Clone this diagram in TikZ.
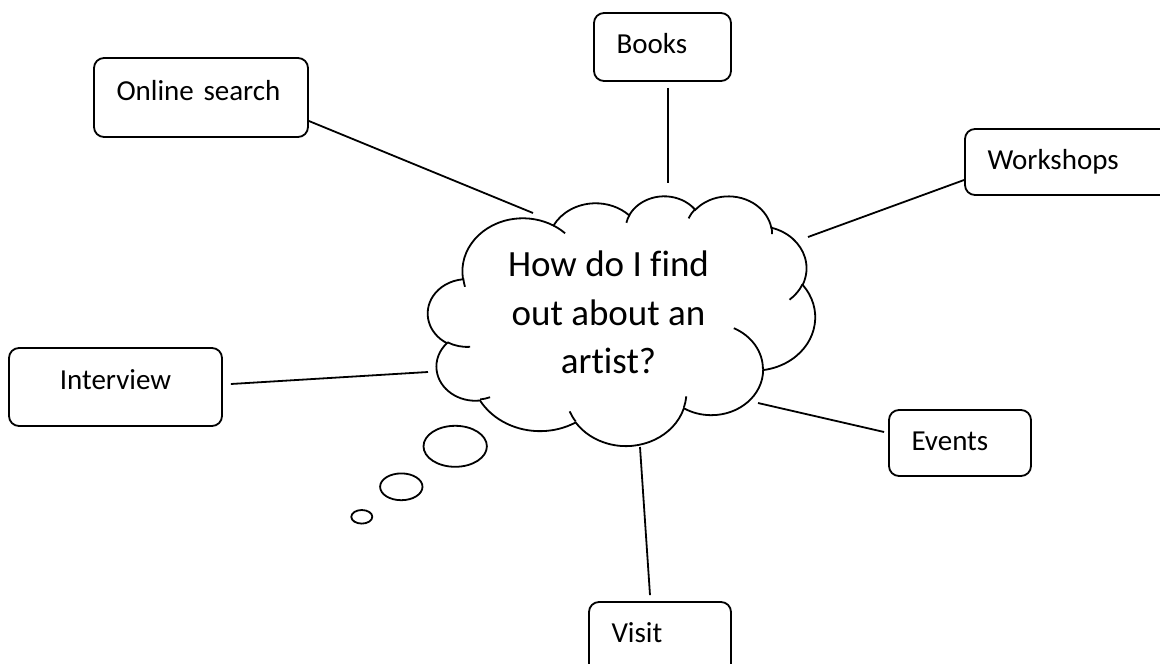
\documentclass[tikz,border=0pt]{standalone}
\usepackage{fontspec}
\setmainfont{Carlito}[Ligatures=CommonOff]
\pgfmathdeclarefunction{pang}{3}{%
  \begingroup
    \pgfmathparse{atan2(sin(#1)*#2, cos(#1)*#3) - (#1)}%
    \pgfmathparse{(#1) + \pgfmathresult - 360*round(\pgfmathresult/360)}%
    \pgfmathsmuggle\pgfmathresult
  \endgroup}
\tikzset{
  box/.style={draw, rounded corners=10pt, inner xsep=22.5pt, inner ysep=0pt,
    font=\fontsize{29}{34}\selectfont, text height=20pt, align=left},
  link/.style={draw},
  bubble/.style={draw, fill=white},
}
\begin{document}
\begin{tikzpicture}[x=1pt, y=-1pt, line width=1.8pt]
\useasboundingbox (0,0) rectangle (1160,664);
\clip (0,0) rectangle (1160,664);

% cloud outline (Word cloud geometry)
\begin{scope}[shift={(428,195.5)}, x=0.896pt, y=-0.578pt]
\draw[fill=white] (39.00,143.70)
 arc[x radius=67.53, y radius=91.90, start angle={pang(-190.4875,67.53,91.90)}, end angle={pang(-66.7070,67.53,91.90)}]
 arc[x radius=53.33, y radius=72.67, start angle={pang(-144.1024,53.33,72.67)}, end angle={pang(-54.1572,53.33,72.67)}]
 arc[x radius=43.65, y radius=59.45, start angle={pang(-145.8079,43.65,59.45)}, end angle={pang(-46.0849,43.65,59.45)}]
 arc[x radius=48.57, y radius=65.95, start angle={pang(-130.9861,48.57,65.95)}, end angle={pang(-13.7444,48.57,65.95)}]
 arc[x radius=53.33, y radius=72.73, start angle={pang(-78.7089,53.33,72.73)}, end angle={pang(30.3180,53.33,72.73)}]
 arc[x radius=67.75, y radius=92.20, start angle={pang(-46.2673,67.75,92.20)}, end angle={pang(84.0017,67.75,92.20)}]
 arc[x radius=57.85, y radius=78.67, start angle={pang(0.6250,57.85,78.67)}, end angle={pang(114.6583,57.85,78.67)}]
 arc[x radius=67.52, y radius=92.15, start angle={pang(22.4516,67.52,92.15)}, end angle={pang(137.6242,67.52,92.15)}]
 arc[x radius=77.20, y radius=105.43, start angle={pang(66.2426,77.20,105.43)}, end angle={pang(141.9536,77.20,105.43)}]
 arc[x radius=43.60, y radius=59.18, start angle={pang(-274.9421,43.60,59.18)}, end angle={pang(-128.2065,43.60,59.18)}]
 arc[x radius=43.45, y radius=59.45, start angle={pang(-246.8285,43.45,59.45)}, end angle={pang(-94.3096,43.45,59.45)}]
 -- cycle;
\draw
 (46.93,261.77) arc[x radius=43.45, y radius=59.45, start angle={pang(86.7420,43.45,59.45)}, end angle={pang(113.1715,43.45,59.45)}]
 (69.28,348.99) arc[x radius=43.60, y radius=59.18, start angle={pang(73.6105,43.60,59.18)}, end angle={pang(85.0580,43.60,59.18)}]
 (164.78,390.90) arc[x radius=67.52, y radius=92.15, start angle={pang(137.6242,67.52,92.15)}, end angle={pang(151.7053,67.52,92.15)}]
 (288.27,347.51) arc[x radius=67.52, y radius=92.15, start angle={pang(6.4533,67.52,92.15)}, end angle={pang(22.4517,67.52,92.15)}]
 (341.29,229.54) arc[x radius=57.85, y radius=78.67, start angle={pang(-70.2924,57.85,78.67)}, end angle={pang(0.6250,57.85,78.67)}]
 (417.98,153.54) arc[x radius=53.33, y radius=72.73, start angle={pang(30.3180,53.33,72.73)}, end angle={pang(58.0695,53.33,72.73)}]
 (383.24,54.26) arc[x radius=48.57, y radius=65.95, start angle={pang(-13.7443,48.57,65.95)}, end angle={pang(1.1146,48.57,65.95)}]
 (290.78,39.52) arc[x radius=48.57, y radius=65.95, start angle={pang(-149.1815,48.57,65.95)}, end angle={pang(-130.9861,48.57,65.95)}]
 (221.41,47.20) arc[x radius=43.65, y radius=59.45, start angle={pang(-163.4943,43.65,59.45)}, end angle={pang(-145.8079,43.65,59.45)}]
 (140.00,51.92) arc[x radius=67.53, y radius=91.90, start angle={pang(-66.7070,67.53,91.90)}, end angle={pang(-54.3876,67.53,91.90)}]
 (41.27,157.89) arc[x radius=67.53, y radius=91.90, start angle={pang(160.4574,67.53,91.90)}, end angle={pang(172.3212,67.53,91.90)}];
\end{scope}

\node[align=center, font=\fontsize{37}{48.5}\selectfont, inner sep=0pt] (q) at (608.5,312.5)
  {How do I find\\out about an\\artist?};

% thought bubbles
\draw[bubble] (455.2,446.3) ellipse [x radius=31.7, y radius=20.5];
\draw[bubble] (401.3,486.8) ellipse [x radius=21.2, y radius=13.4];
\draw[bubble] (361.8,516.8) ellipse [x radius=10.5, y radius=6.8];

% boxes
\node[box, minimum width=214pt, minimum height=79pt, text width=169pt, text depth=13.6pt] (online) at (201,97.5) {Online search};
\node[box, minimum width=137pt, minimum height=68pt, text width=92pt, text depth=7.4pt] (books) at (662.5,47) {Books};
\node[box, minimum width=214pt, minimum height=66pt, text width=169pt, text depth=6pt] (workshops) at (1072,162) {Workshops};
\node[box, align=center, minimum width=213pt, minimum height=78pt, text width=168pt, text depth=15.4pt] (interview) at (115.5,387) {Interview};
\node[box, minimum width=142pt, minimum height=66pt, text width=97pt, text depth=6pt] (events) at (960,443) {Events};
\node[box, minimum width=142pt, minimum height=79pt, text width=97pt, text depth=18pt] (visit) at (660,641.5) {Visit};

% free ends near the cloud
\coordinate (e1) at (533,213);
\coordinate (e2) at (668,183);
\coordinate (e3) at (808,237);
\coordinate (e4) at (428,372);
\coordinate (e5) at (758,403);
\coordinate (e6) at (640,447);

\draw[link] ([yshift=-23.5pt]online.east) -- (e1);
\draw[link] ([xshift=5.5pt,yshift=-6pt]books.south) -- (e2);
\draw[link] ([yshift=-18pt]workshops.west) -- (e3);
\draw[link] ([xshift=8pt,yshift=3pt]interview.east) -- (e4);
\draw[link] ([xshift=-4pt,yshift=11pt]events.west) -- (e5);
\draw[link] (e6) -- ([xshift=-10pt,yshift=6pt]visit.north);
\end{tikzpicture}
\end{document}
